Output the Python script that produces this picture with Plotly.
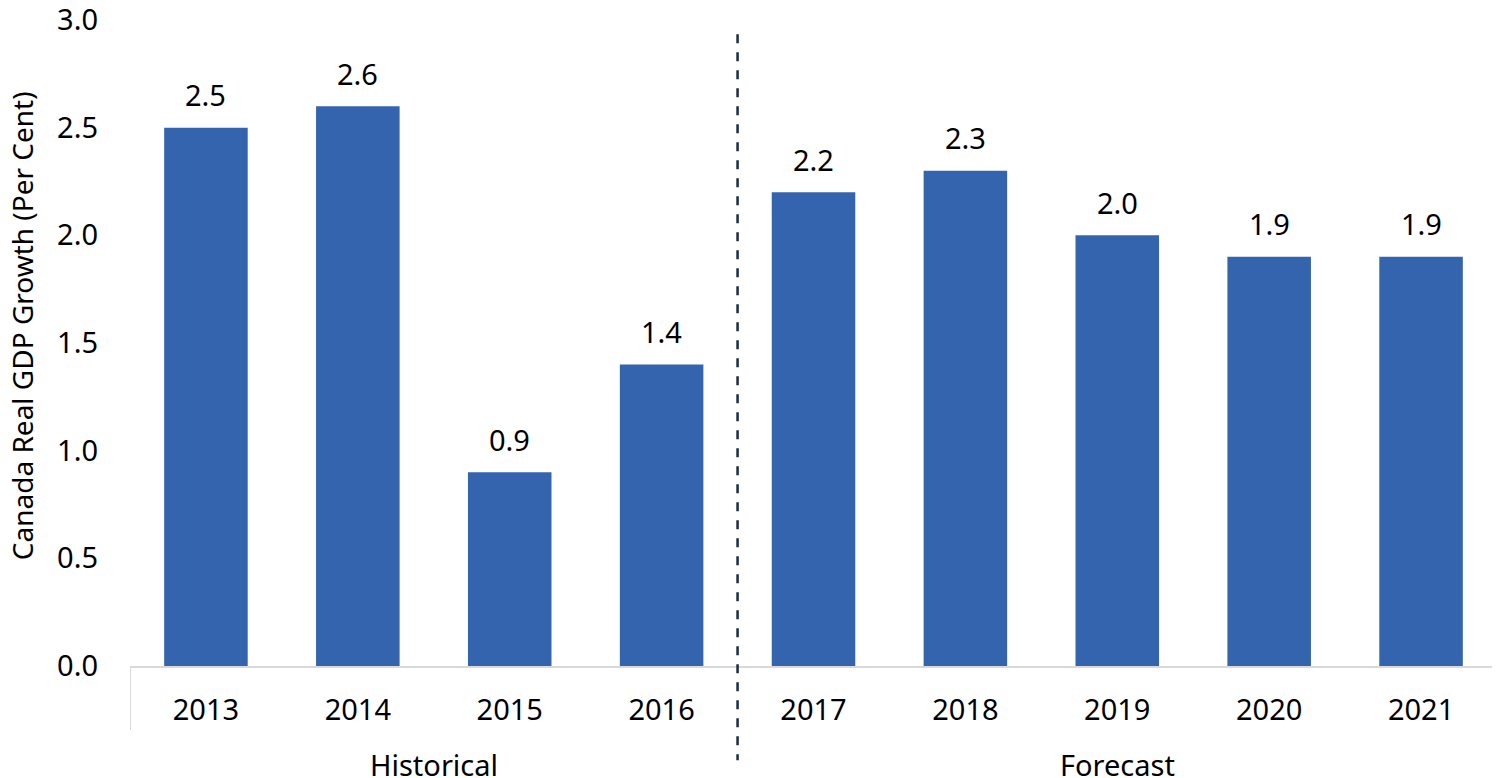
import plotly.graph_objects as go

# data
years = ["2013", "2014", "2015", "2016", "2017", "2018", "2019", "2020", "2021"]
growth = [2.5, 2.6, 0.9, 1.4, 2.2, 2.3, 2.0, 1.9, 1.9]
groups = ["Historical", "Forecast"]
group_centers = [1.5, 6.0]   # middle of each group of categories
split_at = 3.5               # between 2016 and 2017
y_title = "Canada Real GDP Growth (Per Cent)"

BAR = "#3464AE"
GRID = "#D9D9D9"
FONT = "Noto Sans"

fig = go.Figure()
fig.add_trace(go.Bar(x=years, y=growth, marker=dict(color=BAR, line=dict(width=0)),
                     width=0.55, showlegend=False, hoverinfo="x+y"))

# value labels above bars (category index as x so "2013" isn't read as a number)
for i, v in enumerate(growth):
    fig.add_annotation(x=i, y=v, text=f"{v:.1f}", showarrow=False,
                       yanchor="middle", yshift=33,
                       font=dict(family=FONT, size=29, color="black"))

# group labels under the year ticks
for g, c in zip(groups, group_centers):
    fig.add_annotation(x=c, y=-0.153, xref="x", yref="paper", text=g, showarrow=False,
                       yanchor="middle", font=dict(family=FONT, size=29, color="black"))

# y-axis title as rotated annotation (automargin off, so standoff is ignored)
fig.add_annotation(x=0, y=0.526, xref="paper", yref="paper", xshift=-108, text=y_title,
                   textangle=-90, showarrow=False, xanchor="center", yanchor="middle",
                   font=dict(family=FONT, size=28, color="black"))

# outer dividers + dashed split
for xd in (-0.5, 8.5):
    fig.add_shape(type="line", xref="x", yref="paper", x0=xd, x1=xd, y0=0, y1=-0.099,
                  line=dict(color=GRID, width=2))
fig.add_shape(type="line", xref="x", yref="paper", x0=split_at, x1=split_at, y0=0.978, y1=-0.146,
              line=dict(color="#1C2A45", width=2.5, dash="dash"))

fig.update_xaxes(type="category", range=[-0.5, 8.5], showline=True, linecolor=GRID, linewidth=2,
                 showgrid=False, ticks="", ticklabelstandoff=17, automargin=False,
                 tickfont=dict(family=FONT, size=29, color="black"))
fig.update_yaxes(range=[0, 3.0], dtick=0.5, tickformat=".1f", showgrid=False, zeroline=False,
                 showline=False, ticks="", ticklabelstandoff=31, ticklabeloverflow="allow",
                 automargin=False,
                 tickfont=dict(family=FONT, size=29, color="black"))

# margins offset by the page's 8px body margin
fig.update_layout(width=1500, height=778, plot_bgcolor="white", paper_bgcolor="white",
                  margin=dict(l=122, r=11, t=12, b=120, autoexpand=False), bargap=0.45)

fig.write_html("out.html")
